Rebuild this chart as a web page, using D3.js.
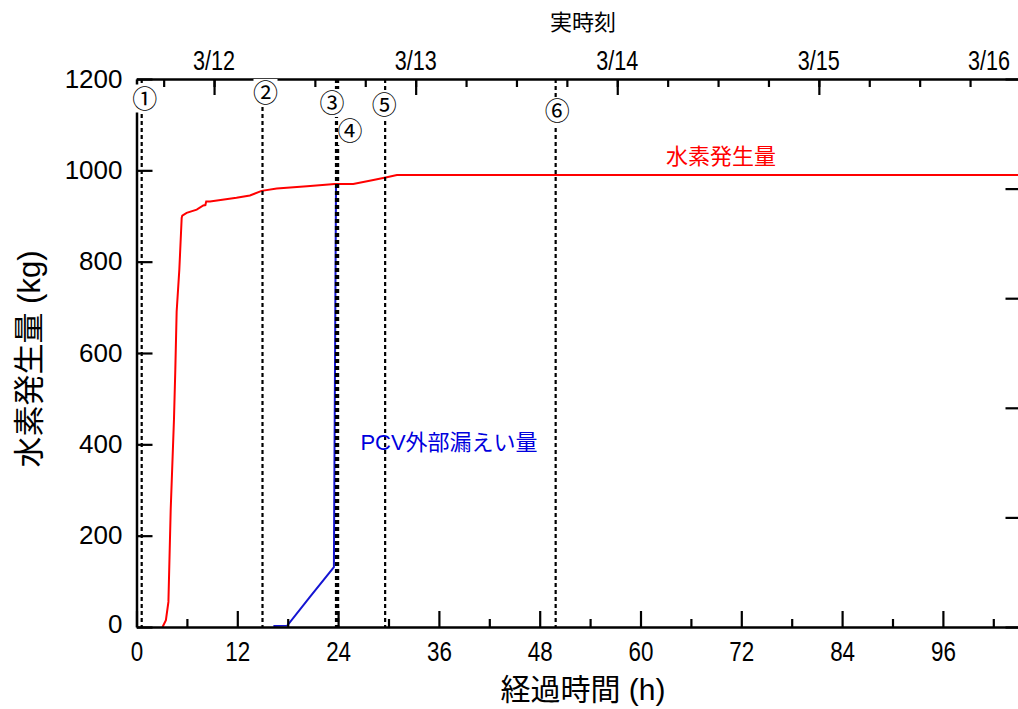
<!DOCTYPE html>
<html><head><meta charset="utf-8">
<script src="https://cdn.jsdelivr.net/npm/d3@7"></script>
<style>
body{margin:0;background:#fff;}
svg{display:block;}
</style></head>
<body>
<svg id="chart" width="1018" height="709"></svg>
<script>
// ---- data ----
const hydrogenHours = [3.1,3.5,3.8,4.07,4.3,4.46,4.62,4.78,5.1,5.38,5.45,5.97,7.17,7.95,8.2,8.3,8.75,11.9,13.5,14.9,16.7,20.3,23.6,25.8,28.2,29.8,31.0,105];
const hydrogenKg    = [0,15,55,256,373,454,563,691,783,896,901,907,914,923,924,932,932,940,945,955,960,965,970,970,979,985,990,990];
const leakHours = [16.3,17.95,20.65,23.5,23.75];
const leakKg    = [2,3,66,131,968];
const markerNames = ["①","②","③","④","⑤","⑥"];
const markerHours = [0.62,15.0,23.75,24.0,29.6,49.9];
const yTickValues = [0,200,400,600,800,1000,1200];
const xTickValues = [0,12,24,36,48,60,72,84,96];
const dateLabels = ["3/12","3/13","3/14","3/15","3/16"];
const startTime = new Date(2011,2,11,14,46);
const hourMax = 105;

// ---- layout ----
const L = 136.5, R = 1018.5, T = 79, B = 627;
const svg = d3.select("#chart");
const x = d3.scaleLinear().domain([0,hourMax]).range([L,R]);
const y = d3.scaleLinear().domain([0,1200]).range([B,T]);
const xt = d3.scaleTime().domain([startTime, d3.timeHour.offset(startTime,hourMax)]).range([L,R]);
const digitFont = "'Liberation Sans', Arial, sans-serif";
const mixFont = "'Liberation Sans', 'Noto Sans CJK JP', sans-serif";
const cjkFont = "'Noto Sans CJK JP', sans-serif";

// data lines
const line = d3.line().x(d=>x(d[0])).y(d=>y(d[1]));
svg.append("path").datum(hydrogenHours.map((h,i)=>[h,hydrogenKg[i]]))
  .attr("d",line).attr("fill","none").attr("stroke","#ff0000").attr("stroke-width",2);
svg.append("path").datum(leakHours.map((h,i)=>[h,leakKg[i]]))
  .attr("d",line).attr("fill","none").attr("stroke","#1414d2").attr("stroke-width",2);

// marker lines
svg.append("g").selectAll("line").data(markerHours).join("line")
  .attr("x1",d=>x(d)).attr("x2",d=>x(d)).attr("y1",T).attr("y2",B)
  .attr("stroke","#000").attr("stroke-width",2.2).attr("stroke-dasharray","4,3");

// axes
function styleAxis(g){
  g.selectAll(".domain").attr("stroke","#000").attr("stroke-width",2.5);
  g.selectAll(".tick line").attr("stroke","#000").attr("stroke-width",2.2);
}
// bottom
const gB = svg.append("g").attr("transform",`translate(0,${B})`)
  .call(d3.axisBottom(x).tickValues(xTickValues).tickSize(-16).tickSizeOuter(0));
gB.selectAll(".tick text").attr("font-family",digitFont).attr("font-size",28).attr("fill","#000")
  .attr("text-anchor","middle").attr("x",0).attr("y",0).attr("dy",null)
  .attr("transform","translate(0,34) scale(0.8,1)");
styleAxis(gB);
svg.append("g").attr("transform",`translate(0,${B})`)
  .call(d3.axisBottom(x).tickValues(d3.range(6,hourMax,12)).tickSize(-8).tickSizeOuter(0).tickFormat(""))
  .call(g=>{g.select(".domain").remove(); styleAxis(g);});

// left
const gL = svg.append("g").attr("transform",`translate(${L},0)`)
  .call(d3.axisLeft(y).tickValues(yTickValues).tickFormat(d3.format("d")).tickSize(-16).tickSizeOuter(0).tickPadding(14));
gL.selectAll(".tick text").attr("font-family",digitFont).attr("font-size",26).attr("fill","#000");
gL.selectAll(".tick").filter(d=>d===0).select("text").attr("dy","0.2em");
styleAxis(gL);

// right (ticks only)
svg.append("g").attr("transform",`translate(${R+1},0)`)
  .call(d3.axisRight(y).tickValues(d3.range(0,1201,240)).tickSize(-14).tickFormat(""))
  .call(g=>{g.select(".domain").remove(); styleAxis(g);});

// top (time)
const gT = svg.append("g").attr("transform",`translate(0,${T})`)
  .call(d3.axisTop(xt).ticks(d3.timeDay.every(1)).tickSize(-16).tickSizeOuter(0).tickFormat(""));
styleAxis(gT);
svg.append("g").attr("transform",`translate(0,${T})`)
  .call(d3.axisTop(xt).ticks(d3.timeHour.every(6)).tickSize(-8).tickSizeOuter(0).tickFormat(""))
  .call(g=>{g.select(".domain").remove(); styleAxis(g);});
const dayStart = d3.timeDay.ceil(startTime);
svg.append("g").selectAll("text").data(dateLabels).join("text")
  .text(d=>d)
  .attr("transform",(d,i)=>{const cx=Math.min(xt(d3.timeDay.offset(dayStart,i)),989); return `translate(${cx},${T-9}) scale(0.8,1)`;})
  .attr("text-anchor","middle").attr("font-family",digitFont).attr("font-size",27).attr("fill","#000");

// marker labels with white background
const labelOffsets = [[3,98.5],[3,93],[-4,103],[12,131],[-1,105],[1.5,111]];
const mg = svg.append("g").selectAll("g").data(markerNames).join("g")
  .attr("transform",(d,i)=>`translate(${x(markerHours[i])+labelOffsets[i][0]},${labelOffsets[i][1]})`);
mg.append("rect").attr("x",-12).attr("y",-14).attr("width",24).attr("height",28).attr("fill","#fff");
mg.append("text").text(d=>d).attr("text-anchor","middle").attr("dy","0.36em")
  .attr("font-family",cjkFont).attr("font-size",25).attr("fill","#000");

// series labels
svg.append("text").text("水素発生量").attr("x",721).attr("y",164).attr("text-anchor","middle")
  .attr("font-family",cjkFont).attr("font-size",22).attr("fill","#ff0000");
svg.append("text").text("PCV外部漏えい量").attr("x",449).attr("y",450).attr("text-anchor","middle")
  .attr("font-family",mixFont).attr("font-size",22).attr("fill","#0000dd");

// titles
svg.append("text").text("実時刻").attr("x",583).attr("y",30).attr("text-anchor","middle")
  .attr("font-family",cjkFont).attr("font-size",22).attr("fill","#000");
svg.append("text").text("経過時間 (h)").attr("x",583).attr("y",700).attr("text-anchor","middle")
  .attr("font-family",mixFont).attr("font-size",30).attr("fill","#000");
svg.append("text").text("水素発生量 (kg)").attr("transform","translate(40,359) rotate(-90)").attr("text-anchor","middle")
  .attr("font-family",mixFont).attr("font-size",31).attr("fill","#000");
</script>
</body></html>
